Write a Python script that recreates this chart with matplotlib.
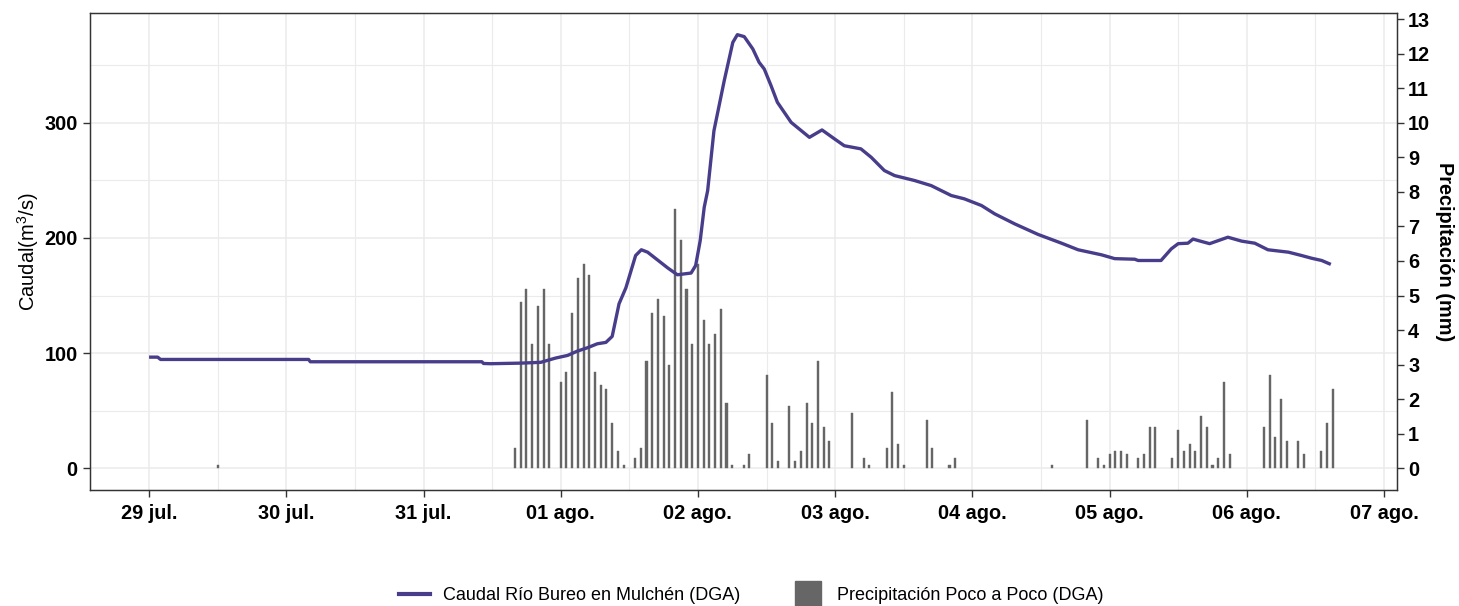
import matplotlib
matplotlib.use("Agg")
import matplotlib.pyplot as plt
import matplotlib.dates as mdates
from matplotlib.lines import Line2D
from datetime import datetime, timedelta

plt.rcParams['font.family'] = ['Liberation Sans', 'DejaVu Sans']
plt.rcParams['mathtext.default'] = 'regular'

# ---------------- data ----------------
start = datetime(2024, 7, 29, 0, 0)

caudal_hours = [0, 1.5, 2, 27.9, 28.2, 58.2, 58.5, 59.7, 65.0, 68.5, 71.1, 73.2, 74.9, 76.7,
                78.4, 79.9, 81.0, 82.2, 83.4, 85.1, 86.1, 87.2, 88.9, 90.7, 92.4, 94.8, 95.6,
                96.4, 97.1, 97.7, 98.8, 100.6, 102.1, 102.9, 104.1, 105.6, 106.7, 107.6, 108.8,
                109.9, 112.3, 115.5, 117.7, 119.9, 121.6, 124.5, 126.3, 128.6, 130.4, 133.9,
                136.8, 140.3, 142.6, 145.6, 147.9, 151.4, 155.5, 159.6, 162.5, 166.6, 168.9,
                172.4, 173.0, 177.0, 178.8, 180.0, 181.7, 182.6, 183.5, 185.5, 188.7, 191.1,
                193.4, 195.7, 199.3, 201.6, 203.3, 205.1, 206.7]
caudal_values = [96.5, 96.5, 94.5, 94.5, 92.5, 92.5, 91.0, 90.8, 91.3, 92.0, 95.7, 98.0, 101.7, 104.7,
                 108.1, 109.3, 114.5, 142.8, 156.7, 184.7, 189.7, 187.6, 181.0, 174.0, 168.0, 169.5, 176.0,
                 197.7, 226.6, 241.0, 293.0, 336.5, 369.7, 376.4, 374.7, 364.0, 352.4, 346.6, 332.0,
                 317.7, 300.3, 287.3, 293.7, 285.9, 280.0, 277.3, 270.0, 258.5, 254.1, 249.8,
                 245.4, 236.8, 233.9, 228.1, 220.9, 212.2, 203.0, 195.4, 189.7, 185.3, 182.0,
                 181.5, 180.4, 180.4, 190.5, 195.0, 195.4, 199.0, 197.7, 195.0, 200.6, 197.2,
                 195.4, 189.7, 187.6, 184.7, 182.4, 180.4, 177.0]

precip_hours = [12, 64, 65, 66, 67, 68, 69, 70, 72, 73, 74, 75, 76, 77, 78, 79, 80, 81, 82, 83,
                85, 86, 87, 88, 89, 90, 91, 92, 93, 94, 95, 96, 97, 98, 99, 100, 101, 102, 104, 105,
                108, 109, 110, 112, 113, 114, 115, 116, 117, 118, 119, 123, 125, 126, 129, 130, 131,
                132, 136, 137, 140, 141, 158, 164, 166, 167, 168, 169, 170, 171, 173, 174, 175, 176,
                179, 180, 181, 182, 183, 184, 185, 186, 187, 188, 189, 195, 196, 197, 198, 199, 201,
                202, 205, 206, 207]
precip_values = [0.1, 0.6, 4.8, 5.2, 3.6, 4.7, 5.2, 3.6, 2.5, 2.8, 4.5, 5.5, 5.9, 5.6, 2.8, 2.4, 2.3, 1.3, 0.5, 0.1,
                 0.3, 0.6, 3.1, 4.5, 4.9, 4.4, 3.0, 7.5, 6.6, 5.2, 3.6, 5.9, 4.3, 3.6, 3.9, 4.6, 1.9, 0.1, 0.1, 0.4,
                 2.7, 1.3, 0.2, 1.8, 0.2, 0.5, 1.9, 1.3, 3.1, 1.2, 0.8, 1.6, 0.3, 0.1, 0.6, 2.2, 0.7,
                 0.1, 1.4, 0.6, 0.1, 0.3, 0.1, 1.4, 0.3, 0.1, 0.4, 0.5, 0.5, 0.4, 0.3, 0.4, 1.2, 1.2,
                 0.3, 1.1, 0.5, 0.7, 0.5, 1.5, 1.2, 0.1, 0.3, 2.5, 0.4, 1.2, 2.7, 0.9, 2.0, 0.8, 0.8,
                 0.4, 0.5, 1.3, 2.3]

tick_days = [datetime(2024, 7, 29) + timedelta(days=i) for i in range(10)]
tick_labels = ["29 jul.", "30 jul.", "31 jul.", "01 ago.", "02 ago.", "03 ago.",
               "04 ago.", "05 ago.", "06 ago.", "07 ago."]

left_ticks = [0, 100, 200, 300]
right_ticks = list(range(0, 14))
scale = 30.0  # m3/s per mm (secondary axis)

label_caudal = "Caudal Río Bureo en Mulchén (DGA)"
label_precip = "Precipitación Poco a Poco (DGA)"

# ---------------- plot ----------------
line_color = "#483D8B"
bar_color = "#666666"
grid_color = "#EBEBEB"
frame_color = "#333333"

fig = plt.figure(figsize=(14.59, 6.06), dpi=100)
ax = fig.add_axes([90/1459, 1 - 490/606, (1397-90)/1459, (490-13)/606])
ax2 = ax.twinx()

cx = [start + timedelta(hours=h) for h in caudal_hours]
px = [start + timedelta(hours=h) for h in precip_hours]
cxn = mdates.date2num(cx)
pxn = mdates.date2num(px)

# bars on precip axis, line drawn on top via caudal data transform
ax2.bar(pxn, precip_values, width=0.36/24, color=bar_color, linewidth=0.3,
        edgecolor=bar_color, zorder=2)
ax2.plot(cxn, caudal_values, color=line_color, lw=2.4, transform=ax.transData, zorder=3,
         solid_joinstyle='round', solid_capstyle='butt')

# ticks and grid on left axis (background)
ax.set_xticks(mdates.date2num(tick_days))
ax.set_xticks(mdates.date2num(tick_days[:-1]) + 0.5, minor=True)
ax.set_xticklabels(tick_labels)
ax.set_yticks(left_ticks)
ax.set_yticks([50, 150, 250, 350], minor=True)
ax.grid(True, which='major', color=grid_color, lw=1.1)
ax.grid(True, which='minor', color=grid_color, lw=0.8)
ax.set_axisbelow(True)
ax2.set_yticks(right_ticks)

# limits (after ticks so they are not expanded)
ymax = max(caudal_values)
ylo, yhi = -0.05 * ymax, ymax * 1.05
ax.set_ylim(ylo, yhi)
ax2.set_ylim(ylo / scale, yhi / scale)
x0 = mdates.date2num(start)
x1 = mdates.date2num(start + timedelta(hours=max(caudal_hours)))
span = x1 - x0
ax.set_xlim(x0 - 0.05 * span, x1 + 0.056 * span)

ax.tick_params(axis='x', which='minor', length=0)
ax.tick_params(axis='y', which='minor', length=0)
for a in (ax, ax2):
    a.tick_params(which='major', length=5, width=1, color=frame_color,
                  labelsize=14.3, labelcolor='black')
    for s in a.spines.values():
        s.set_color(frame_color)
        s.set_linewidth(0.9)
for lab in ax.get_xticklabels() + ax.get_yticklabels() + ax2.get_yticklabels():
    lab.set_fontweight('bold')
ax.tick_params(axis='x', pad=5)
ax.tick_params(axis='y', pad=4)
ax2.tick_params(axis='y', pad=3)

ax.set_ylabel("Caudal(m$^3$/s)", fontsize=14.5, labelpad=2)
ax2.set_ylabel("Precipitación (mm)", fontsize=14.3, fontweight='bold',
               rotation=270, labelpad=17)

handles = [Line2D([0], [0], color=line_color, lw=3),
           Line2D([0], [0], marker='s', color='none', markerfacecolor=bar_color,
                  markeredgecolor=bar_color, markersize=19, linestyle='none')]
fig.legend(handles, [label_caudal, label_precip], loc='center', ncol=2,
           bbox_to_anchor=(0.515, 0.017), frameon=False, fontsize=13,
           handlelength=1.7, columnspacing=2.9, handletextpad=0.75)

fig.savefig("out.png", dpi=100)
